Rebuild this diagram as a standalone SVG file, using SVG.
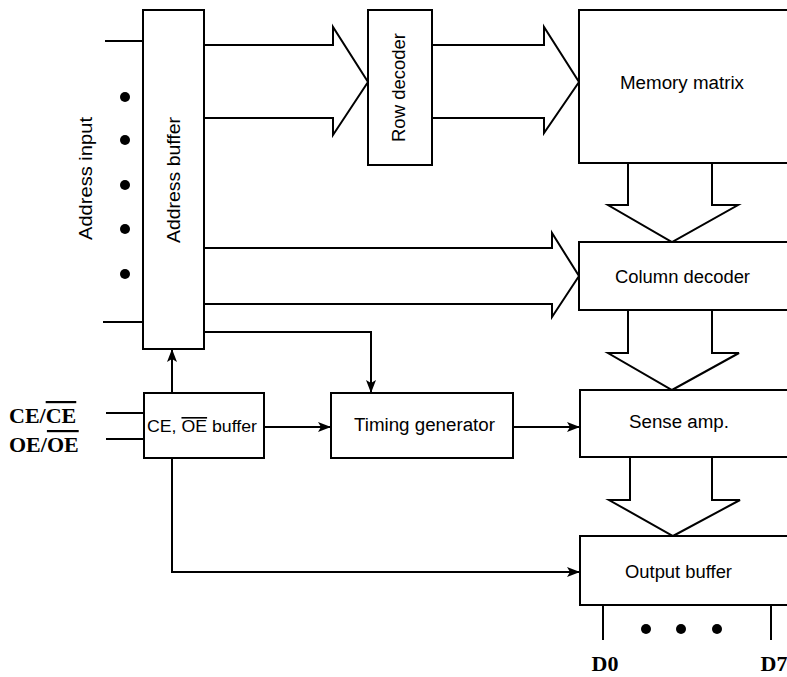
<svg xmlns="http://www.w3.org/2000/svg" width="787" height="677" viewBox="0 0 787 677">
<style>
.box{fill:#fff;stroke:#000;stroke-width:2}
.ln{fill:none;stroke:#000;stroke-width:2}
.fat{fill:none;stroke:#000;stroke-width:2;stroke-linejoin:miter}
.lbl{font-family:"Liberation Sans",Arial,sans-serif;font-size:18px;fill:#000}
.ser{font-family:"Liberation Serif","Times New Roman",serif;font-size:22px;font-weight:bold;fill:#000}
.dot{fill:#000}
</style>
<defs>
<marker id="ah" markerWidth="14" markerHeight="10" refX="13" refY="5" orient="auto" markerUnits="userSpaceOnUse">
<path d="M0,0 L13,5 L0,10 L3,5 z" fill="#000"/>
</marker>
</defs>
<rect width="787" height="677" fill="#fff"/>

<g id="address-input">
<line class="ln" x1="105" y1="41" x2="143" y2="41"/>
<line class="ln" x1="103" y1="322" x2="143" y2="322"/>
<circle class="dot" cx="125" cy="97" r="5"/>
<circle class="dot" cx="125" cy="140" r="5"/>
<circle class="dot" cx="125" cy="185" r="5"/>
<circle class="dot" cx="125" cy="229" r="5"/>
<circle class="dot" cx="125" cy="274" r="5"/>
<text class="lbl" transform="translate(92,240) rotate(-90)" textLength="123" lengthAdjust="spacingAndGlyphs">Address input</text>
</g>

<g id="connectors">
<path class="fat" d="M204,45 H333 V27 L368,82 L333,135 V118 H204"/>
<path class="fat" d="M432,45 H544 V27 L579,82 L544,133 V118 H432"/>
<path class="fat" d="M204,248 H552 V233 L579,276 L552,317 V304 H204"/>
<path class="fat" d="M628,163 V205 H608 L672,242 L738,205 H712 V163"/>
<path class="fat" d="M628,310 V353 H608 L672,390 L739,353 H712 V310"/>
<path class="fat" d="M630,457 V500 H609 L673,536 L740,500 H712 V457"/>
<path class="ln" d="M172,393 V349" marker-end="url(#ah)"/>
<path class="ln" d="M204,332 H371 V393" marker-end="url(#ah)"/>
<path class="ln" d="M264,427 H331" marker-end="url(#ah)"/>
<path class="ln" d="M513,427 H580" marker-end="url(#ah)"/>
<path class="ln" d="M172,458 V572 H580" marker-end="url(#ah)"/>
<line class="ln" x1="106" y1="413" x2="144" y2="413"/>
<line class="ln" x1="106" y1="439" x2="144" y2="439"/>
<line class="ln" x1="603" y1="605" x2="603" y2="640"/>
<line class="ln" x1="771" y1="605" x2="771" y2="640"/>
</g>

<g id="address-buffer">
<rect class="box" x="143" y="10" width="61" height="339"/>
<text class="lbl" transform="translate(180,243) rotate(-90)" textLength="126" lengthAdjust="spacingAndGlyphs">Address buffer</text>
</g>

<g id="row-decoder">
<rect class="box" x="368" y="10" width="64" height="155"/>
<text class="lbl" transform="translate(405,142) rotate(-90)" textLength="109" lengthAdjust="spacingAndGlyphs">Row decoder</text>
</g>

<g id="memory-matrix">
<rect class="box" x="579" y="10" width="230" height="153"/>
<text class="lbl" x="620" y="89" textLength="124" lengthAdjust="spacingAndGlyphs">Memory matrix</text>
</g>

<g id="column-decoder">
<rect class="box" x="579" y="242" width="230" height="68"/>
<text class="lbl" x="615" y="283" textLength="135" lengthAdjust="spacingAndGlyphs">Column decoder</text>
</g>

<g id="sense-amp">
<rect class="box" x="580" y="390" width="230" height="67"/>
<text class="lbl" x="629" y="428" textLength="100" lengthAdjust="spacingAndGlyphs">Sense amp.</text>
</g>

<g id="output-buffer">
<rect class="box" x="580" y="536" width="230" height="69"/>
<text class="lbl" x="625" y="578" textLength="107" lengthAdjust="spacingAndGlyphs">Output buffer</text>
<circle class="dot" cx="646" cy="629" r="5"/>
<circle class="dot" cx="681" cy="629" r="5"/>
<circle class="dot" cx="717" cy="629" r="5"/>
<text class="ser" x="605" y="671" text-anchor="middle">D0</text>
<text class="ser" x="774" y="671" text-anchor="middle">D7</text>
</g>

<g id="ce-oe-buffer">
<rect class="box" x="144" y="393" width="120" height="65"/>
<text class="lbl" x="147" y="432" style="font-size:16px" textLength="110" lengthAdjust="spacingAndGlyphs">CE, <tspan style="text-decoration:overline">OE</tspan> buffer</text>
</g>

<g id="timing-generator">
<rect class="box" x="331" y="393" width="182" height="65"/>
<text class="lbl" x="354" y="431" textLength="141" lengthAdjust="spacingAndGlyphs">Timing generator</text>
</g>

<g id="control-inputs">
<text class="ser" x="9" y="423">CE/<tspan style="text-decoration:overline">CE</tspan></text>
<text class="ser" x="9" y="452">OE/<tspan style="text-decoration:overline">OE</tspan></text>
</g>
</svg>
